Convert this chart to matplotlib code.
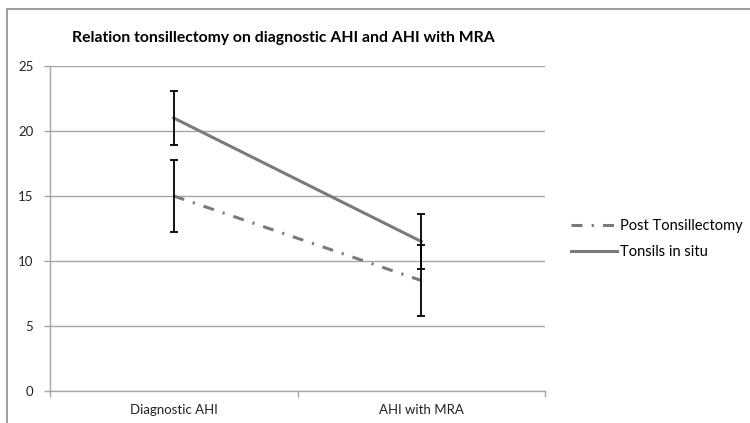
import matplotlib
matplotlib.use('Agg')
import matplotlib.pyplot as plt
from matplotlib.patches import Rectangle

# ── Data ─────────────────────────────────────────────────────────────────────
categories = ['Diagnostic AHI', 'AHI with MRA']
post_tons = [15.0, 8.5]
post_err = [2.75, 2.75]
in_situ = [21.0, 11.5]
in_situ_err = [2.1, 2.1]
yticks = [0, 5, 10, 15, 20, 25]

LINE = '#7a7a7a'
GRID = '#a6a6a6'
plt.rcParams['font.family'] = ['Lato', 'DejaVu Sans']

fig = plt.figure(figsize=(7.5, 4.23), dpi=100)
ax = fig.add_axes([50 / 750, 1 - 391 / 423, 495 / 750, 325 / 423])

x = [0, 1]
ax.plot(x, post_tons, color=LINE, lw=2.2, dashes=(3.6, 3, 0.7, 3), label='Post Tonsillectomy', zorder=3)
ax.plot(x, in_situ, color=LINE, lw=2.2, label='Tonsils in situ', zorder=3)
ax.errorbar(x, post_tons, yerr=post_err, fmt='none', ecolor='black', elinewidth=1.3,
            capsize=3, capthick=1.3, zorder=4)
ax.errorbar(x, in_situ, yerr=in_situ_err, fmt='none', ecolor='black', elinewidth=1.3,
            capsize=3, capthick=1.3, zorder=4)

ax.set_xlim(-0.5, 1.5)
ax.set_ylim(0, 25)
ax.set_yticks(yticks)
ax.set_yticklabels([str(v) for v in yticks], fontsize=9.5, color='#222222')
ax.set_xticks(x)
ax.set_xticklabels(categories, fontsize=9.5, color='#222222')
ax.set_xticks([-0.5, 0.5, 1.5], minor=True)
ax.tick_params(axis='x', which='major', length=0, pad=9)
ax.tick_params(axis='x', which='minor', length=4, color=GRID, width=1)
ax.tick_params(axis='y', length=4, color=GRID, width=1, pad=8)
ax.grid(axis='y', color=GRID, lw=1, zorder=0)
for s in ('top', 'right'):
    ax.spines[s].set_visible(False)
for s in ('left', 'bottom'):
    ax.spines[s].set_color(GRID)
    ax.spines[s].set_linewidth(1)

fig.text(283 / 750, 1 - 42 / 423, 'Relation tonsillectomy on diagnostic AHI and AHI with MRA',
         ha='center', va='baseline', fontsize=11.3, fontweight='bold')

ax.legend(loc='center left', bbox_to_anchor=(1.025, 0.468), frameon=False, fontsize=10.5,
          handlelength=3.2, handletextpad=0.2, labelspacing=0.8)

# outer chart border
fig.patches.append(Rectangle((7 / 750, -0.05), 760 / 750, 1 - 9 / 423 + 0.05,
                             transform=fig.transFigure, fill=False,
                             edgecolor='#8c8c8c', lw=1.2))

fig.savefig('out.png', dpi=100)
